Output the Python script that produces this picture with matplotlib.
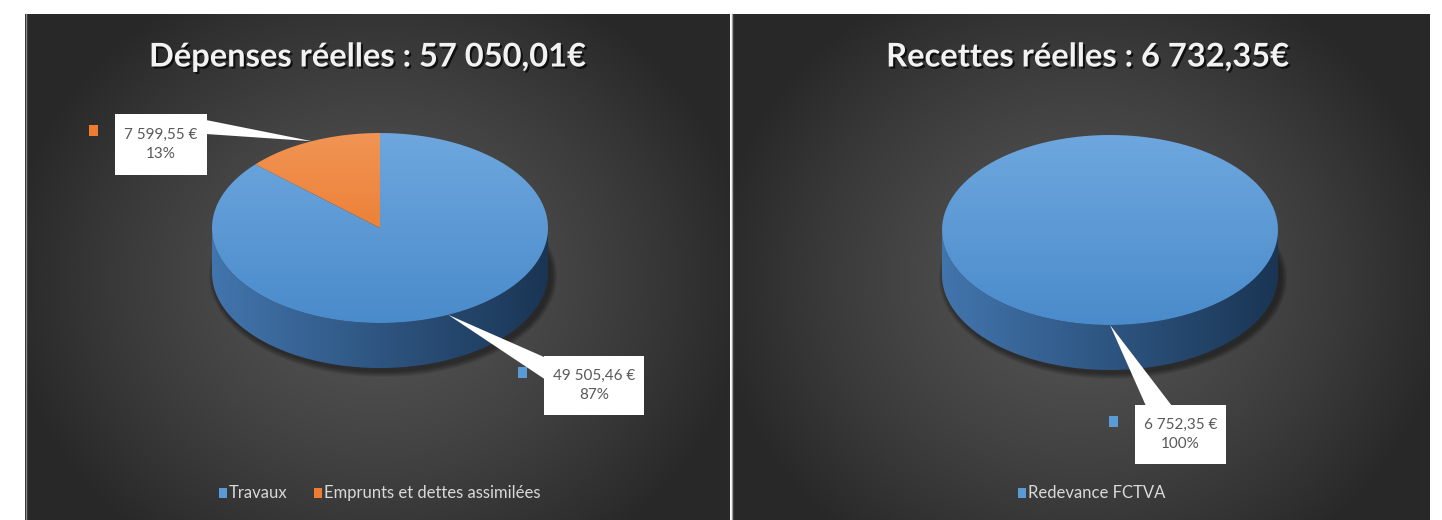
import numpy as np
import matplotlib.pyplot as plt
import matplotlib.colors as mcolors
import matplotlib.patheffects as pe
from matplotlib.patches import Polygon, Rectangle, Ellipse

W, H = 1442, 520

# chart data
dep_title = "Dépenses réelles : 57 050,01€"
dep_labels = ["Travaux", "Emprunts et dettes assimilées"]
dep_values = [49505.46, 7599.55]

rec_title = "Recettes réelles : 6 732,35€"
rec_labels = ["Redevance FCTVA"]
rec_values = [6752.35]

top_colors = [("#6ea7de", "#4a8bcb"), ("#f19454", "#e96f1c")]
side_colors = ("#4275ad", "#1a3554")
key_colors = ["#5b9bd5", "#ed7d31"]

plt.rcParams['font.family'] = ['Lato', 'DejaVu Sans']

fig = plt.figure(figsize=(W / 100, H / 100), dpi=100, facecolor="white")
ax = fig.add_axes([0, 0, 1, 1])
ax.axis("off")
ax.set_xlim(0, W)
ax.set_ylim(H, 0)
ax.set_autoscale_on(False)


def fmt_eur(v):
    s = f"{v:,.2f}".replace(",", " ").replace(".", ",")
    return s + " €"


def grad_fill(patch, c1, c2, x0, x1, y0, y1, vertical=True, z=3):
    t = np.linspace(0, 1, 256)
    a = np.array(mcolors.to_rgb(c1))
    b = np.array(mcolors.to_rgb(c2))
    col = a[None, :] * (1 - t[:, None]) + b[None, :] * t[:, None]
    arr = col[:, None, :] if vertical else col[None, :, :]
    im = ax.imshow(arr, extent=(x0, x1, y1, y0), aspect="auto",
                   interpolation="bilinear", zorder=z)
    im.set_clip_path(patch)


def panel_bg(x0, x1, y0, y1):
    w, h = int(x1 - x0), int(y1 - y0)
    xx, yy = np.meshgrid(np.linspace(-1, 1, w), np.linspace(-1, 1, h))
    yy = yy - 0.05
    r = np.clip(np.sqrt((xx / 1.05) ** 2 + (yy / 1.3) ** 2), 0, 1)
    v = 0.33 - (0.33 - 0.16) * r ** 1.4
    img = np.dstack([v, v, v])
    ax.imshow(img, extent=(x0, x1, y1, y0), aspect="auto", zorder=0,
              interpolation="bilinear")


def arc(cx, cy, rx, ry, a0, a1, n=120):
    t = np.radians(np.linspace(a0, a1, n))
    return np.column_stack([cx + rx * np.cos(t), cy - ry * np.sin(t)])


def pie3d(values, cx, cy, rx, ry, depth):
    total = sum(values)
    # shadow under the pie
    for k in range(6):
        ax.add_patch(Ellipse((cx + 3, cy + depth + 3), 2 * rx + 12 - 2 * k,
                             2 * ry + 12 - 2 * k, color="black", alpha=0.08,
                             lw=0, zorder=1))
    start = 90.0
    tips = []
    for i, v in enumerate(values):
        span = 360.0 * v / total
        lo, hi = start - span, start
        # front wall
        for k in range(-2, 2):
            a = max(lo, -180 + 360 * k)
            b = min(hi, 360 * k)
            if b > a:
                up = arc(cx, cy, rx, ry, a, b)
                dn = up[::-1] + [0, depth]
                p = Polygon(np.vstack([up, dn]), closed=True, lw=0,
                            facecolor="none", zorder=2)
                ax.add_patch(p)
                grad_fill(p, side_colors[0], side_colors[1], cx - rx, cx + rx,
                          cy - ry, cy + ry + depth, vertical=False, z=2)
        # top face
        pts = np.vstack([[cx, cy], arc(cx, cy, rx, ry, lo, hi)])
        p = Polygon(pts, closed=True, lw=0, facecolor="none", zorder=3)
        ax.add_patch(p)
        grad_fill(p, top_colors[i][0], top_colors[i][1], cx - rx, cx + rx,
                  cy - ry, cy + ry, z=3)
        mid = np.radians(start - span / 2)
        tips.append((cx + rx * np.cos(mid), cy - ry * np.sin(mid),
                     v, 100 * v / total))
        start = lo
    return tips


def callout(tip, box, base, color):
    x0, y0, x1, y1 = box
    ax.add_patch(Polygon([tip[:2], base[0], base[1]], closed=True,
                         facecolor="white", lw=0, zorder=5))
    ax.add_patch(Rectangle((x0, y0), x1 - x0, y1 - y0, facecolor="white",
                           lw=0, zorder=6))
    ax.add_patch(Rectangle((x0 - 26, y0 + 11), 9, 11, facecolor=color,
                           lw=0, zorder=6))
    ax.text((x0 + x1) / 2, (y0 + y1) / 2, f"{fmt_eur(tip[2])}\n{tip[3]:.0f}%",
            ha="center", va="center", fontsize=11, color="#595959",
            linespacing=1.45, zorder=7)


def title(x, text):
    ax.text(x, 57, text, ha="center", va="center", fontsize=23.5,
            fontweight="bold", color="#f2f2f2", zorder=8,
            path_effects=[pe.withSimplePatchShadow(offset=(1.5, -1.5),
                                                    shadow_rgbFace="black",
                                                    alpha=0.7)])


def legend(x, labels, gap=26):
    inv = ax.transData.inverted()
    for lab, col in zip(labels, key_colors):
        ax.add_patch(Rectangle((x, 488), 8, 10, facecolor=col, lw=0, zorder=6))
        t = ax.text(x + 10, 493, lab, ha="left", va="center", fontsize=12,
                    color="#d9d9d9", zorder=6)
        fig.canvas.draw()
        bb = t.get_window_extent()
        x = inv.transform((bb.x1, bb.y1))[0] + gap


# panels
panel_bg(25, 730, 14, 520)
panel_bg(733, 1430, 14, 520)
ax.plot([25.5, 25.5], [14, 520], color="#8a8a8a", lw=1, zorder=1)
ax.plot([731.5, 731.5], [14, 520], color="#9a9a9a", lw=1, zorder=1)

# left chart
tips = pie3d(dep_values, 380, 228, 168, 95, 45)
callout(tips[0], (544, 356, 644, 415), [(544, 357), (546, 380)], key_colors[0])
callout(tips[1], (115, 114, 207, 175), [(206, 120), (206, 134)], key_colors[1])
title(367, dep_title)
legend(219, dep_labels)

# right chart
tips = pie3d(rec_values, 1110, 230, 168, 95, 45)
callout(tips[0], (1135, 405, 1226, 464), [(1146, 406), (1172, 406)], key_colors[0])
title(1087, rec_title)
legend(1018, rec_labels)

ax.set_xlim(0, W)
ax.set_ylim(H, 0)
fig.savefig("out.png", dpi=100, facecolor="white")
